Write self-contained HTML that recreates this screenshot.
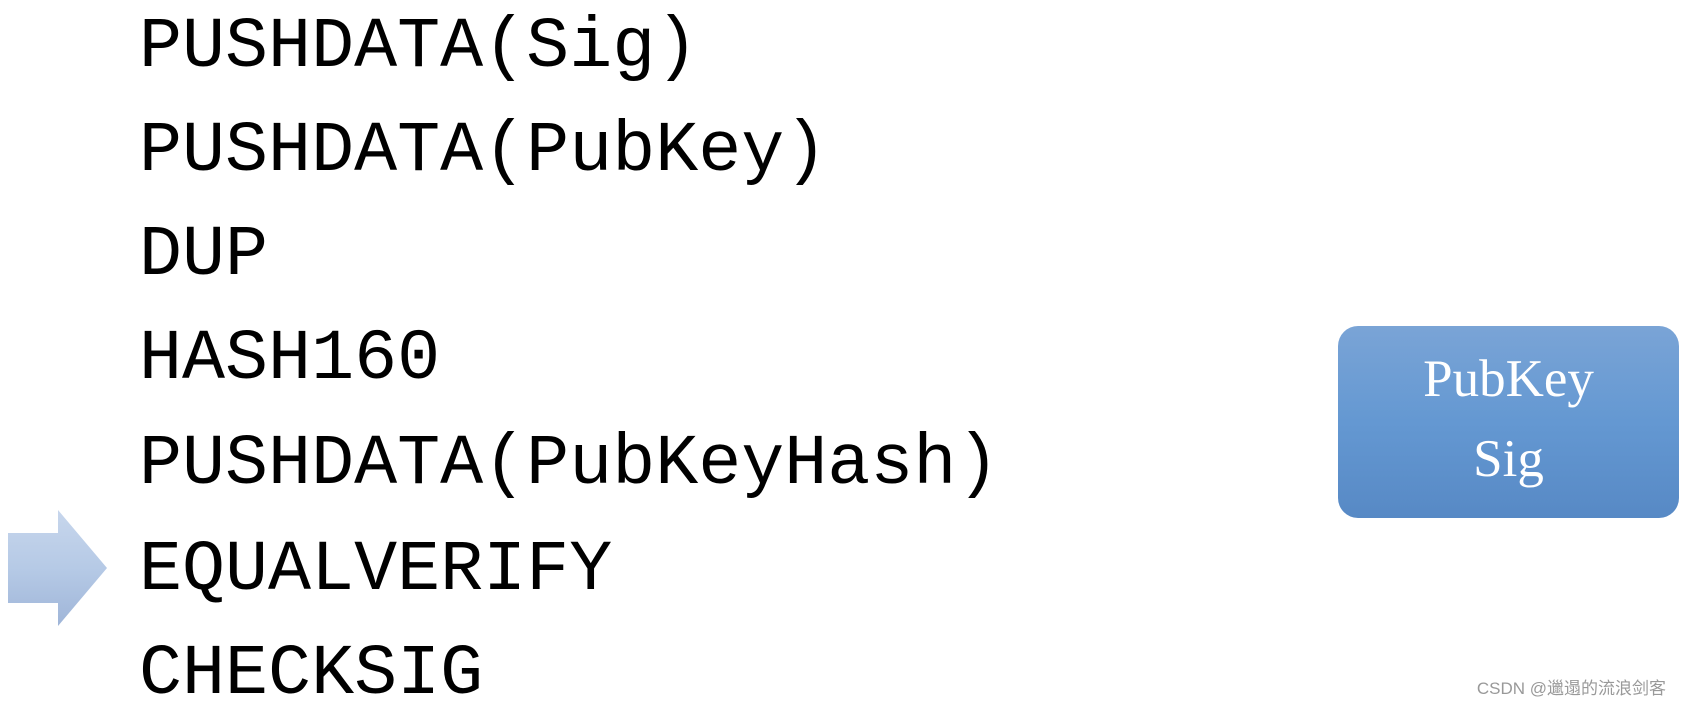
<!DOCTYPE html>
<html><head><meta charset="utf-8"><style>
html,body{margin:0;padding:0;background:#fff;}
body{width:1686px;height:704px;position:relative;overflow:hidden;}
.l{position:absolute;left:139px;font-family:"Liberation Mono","Courier New",monospace;font-size:71.7px;color:#000;line-height:1;white-space:nowrap;font-weight:normal;}
.box{position:absolute;left:1338px;top:326px;width:341px;height:192px;border-radius:20px;background:linear-gradient(#7aa4d6,#6498d2 50%,#5789c5);}
.bt{position:absolute;left:1338px;width:341px;text-align:center;font-family:"Liberation Serif","Times New Roman",serif;font-size:53px;color:#fff;line-height:1;}
.wm{position:absolute;right:20px;top:674px;font-family:"Liberation Sans","Noto Sans CJK SC",sans-serif;font-size:17px;color:#999;white-space:nowrap;}
</style></head><body>
<div class="l" style="top:12px">PUSHDATA(Sig)</div>
<div class="l" style="top:116px">PUSHDATA(PubKey)</div>
<div class="l" style="top:220px">DUP</div>
<div class="l" style="top:324px">HASH160</div>
<div class="l" style="top:429px">PUSHDATA(PubKeyHash)</div>
<div class="l" style="top:535px">EQUALVERIFY</div>
<div class="l" style="top:639px">CHECKSIG</div>
<svg style="position:absolute;left:0;top:0" width="120" height="704">
<defs><linearGradient id="g" x1="0" y1="0" x2="0" y2="1"><stop offset="0" stop-color="#c7d6ec"/><stop offset="0.5" stop-color="#b6cae6"/><stop offset="1" stop-color="#9fb5d8"/></linearGradient></defs>
<polygon points="8,533 58,533 58,510 107,568 58,626 58,603 8,603" fill="url(#g)"/>
</svg>
<div class="box"></div>
<div class="bt" style="top:353px">PubKey</div>
<div class="bt" style="top:433px">Sig</div>
<div class="wm">CSDN @邋遢的流浪剑客</div>
</body></html>
